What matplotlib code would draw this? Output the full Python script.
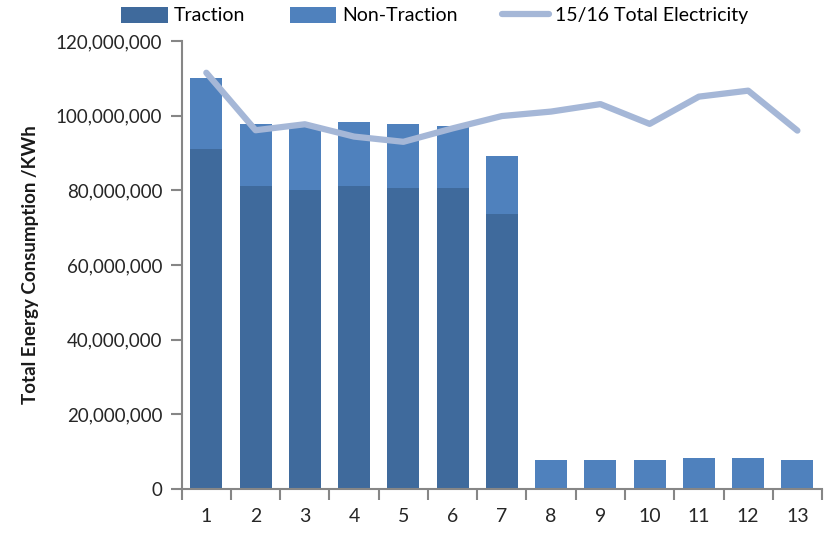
import matplotlib.pyplot as plt
import numpy as np
from matplotlib.ticker import FuncFormatter, FixedLocator, NullFormatter

periods = [str(i) for i in range(1, 14)]
traction = [91.2e6, 81.2e6, 80.1e6, 81.2e6, 80.6e6, 80.6e6, 73.7e6, 0, 0, 0, 0, 0, 0]
non_traction = [18.9e6, 16.6e6, 17.4e6, 17.1e6, 17.2e6, 16.6e6, 15.5e6,
                7.8e6, 7.8e6, 7.8e6, 8.3e6, 8.3e6, 7.8e6]
total_1516 = [111.5e6, 96.1e6, 97.7e6, 94.4e6, 93.0e6, 96.6e6, 99.9e6,
              101.1e6, 103.1e6, 97.8e6, 105.1e6, 106.7e6, 96.0e6]

plt.rcParams['font.family'] = ['Lato', 'DejaVu Sans']

fig = plt.figure(figsize=(8.27, 5.34), dpi=100)
ax = fig.add_axes([0.2197, 0.0843, 0.7743, 0.8389])

x = np.arange(len(periods))
w = 0.65
b1 = ax.bar(x, traction, width=w, color='#3F6A9C', label='Traction', zorder=2)
b2 = ax.bar(x, non_traction, width=w, bottom=traction, color='#4F81BD',
            label='Non-Traction', zorder=2)
ln, = ax.plot(x, total_1516, color='#A5B7D7', linewidth=4.5, solid_capstyle='round',
              solid_joinstyle='round', label='15/16 Total Electricity', zorder=3)

ax.set_xlim(-0.5, len(periods) - 0.5)
ax.set_ylim(0, 120e6)
ax.set_yticks(np.arange(0, 120e6 + 1, 20e6))
ax.yaxis.set_major_formatter(FuncFormatter(lambda v, p: f'{int(v):,}'))

# category labels in the middle, ticks on the boundaries
ax.set_xticks(x)
ax.set_xticklabels(periods)
ax.tick_params(axis='x', which='major', length=0, pad=14, labelsize=14, labelcolor='#262626')
ax.xaxis.set_minor_locator(FixedLocator(np.arange(-0.5, len(periods), 1.0)))
ax.xaxis.set_minor_formatter(NullFormatter())
ax.tick_params(axis='x', which='minor', length=8, width=1.5, color='#868686', direction='out')
ax.tick_params(axis='y', length=8, width=1.5, color='#868686', labelsize=13.5,
               labelcolor='#262626', pad=6)

for s in ['top', 'right']:
    ax.spines[s].set_visible(False)
for s in ['left', 'bottom']:
    ax.spines[s].set_color('#868686')
    ax.spines[s].set_linewidth(1.5)

ax.set_ylabel('Total Energy Consumption /KWh', fontsize=13.5, fontweight='bold',
              color='#1a1a1a', labelpad=12)

ax.legend(handles=[b1, b2, ln], loc='upper center', bbox_to_anchor=(0.395, 1.115),
          ncol=3, frameon=False, fontsize=14, handlelength=2.4, handleheight=0.85,
          handletextpad=0.3, columnspacing=2.3)

fig.savefig('out.png', dpi=100)
